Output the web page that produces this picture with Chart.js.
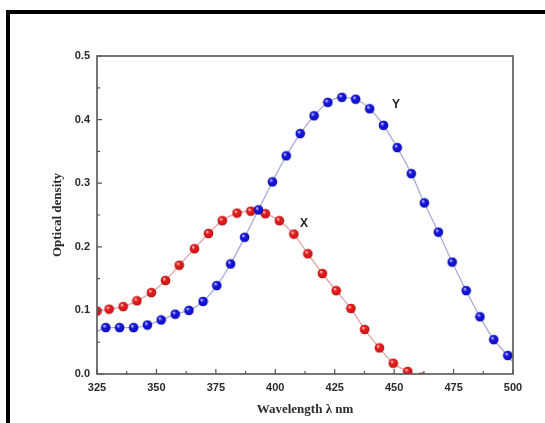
<!DOCTYPE html>
<html>
<head>
<meta charset="utf-8">
<script src="https://cdn.jsdelivr.net/npm/chart.js@4/dist/chart.umd.min.js"></script>
<style>
  html, body { margin: 0; padding: 0; background: #ffffff; }
  #wrap { width: 545px; height: 423px; position: relative; }
</style>
</head>
<body>
<div id="wrap"><canvas id="c" width="545" height="423"></canvas></div>
<script>
// ---- data ----
const xTitle = 'Wavelength \u03bb nm';
const yTitle = 'Optical density';

// Series Y (blue)
const blueWave = [328.7, 334.5, 340.4, 346.2, 352.0, 357.9, 363.7, 369.6, 375.4, 381.2,
                  387.1, 392.9, 398.8, 404.6, 410.5, 416.3, 422.1, 428.0, 433.8, 439.7,
                  445.5, 451.3, 457.2, 462.7, 468.6, 474.4, 480.3, 486.1, 491.9, 497.8];
const blueOD   = [0.073, 0.073, 0.073, 0.077, 0.085, 0.094, 0.100, 0.114, 0.139, 0.173,
                  0.215, 0.258, 0.302, 0.343, 0.378, 0.406, 0.427, 0.435, 0.432, 0.417,
                  0.391, 0.356, 0.315, 0.269, 0.223, 0.176, 0.131, 0.090, 0.054, 0.029];
const blueLineStart = [325, 0.067];
const blueLineEnd   = [500, 0.018];

// Series X (red)
const redWave = [325.0, 330.1, 336.0, 341.8, 347.9, 353.8, 359.6, 366.0, 371.9, 377.7,
                 383.9, 389.7, 395.8, 401.7, 407.8, 413.7, 419.8, 425.6, 431.8, 437.6,
                 443.8, 449.6, 455.7, 461.6];
const redOD   = [0.099, 0.102, 0.106, 0.115, 0.128, 0.147, 0.171, 0.197, 0.221, 0.241,
                 0.253, 0.256, 0.252, 0.241, 0.220, 0.189, 0.158, 0.131, 0.103, 0.070,
                 0.041, 0.017, 0.004, -0.005];

// curve labels
const labelText = ['X', 'Y'];
const labelWave = [412.1, 450.8];
const labelOD   = [0.237, 0.424];

// axes
const xMin = 325, xMax = 500, xStep = 25;
const yMin = 0, yMax = 0.5, yStep = 0.1;

// ---- helpers ----
const pts = (xs, ys) => xs.map((x, i) => ({ x: x, y: ys[i] }));
const MARK_R = 4.8;

function sphereImage(light, base, dark) {
  const size = Math.ceil(MARK_R * 2) + 1;
  const cv = document.createElement('canvas');
  cv.width = size; cv.height = size;
  const c = cv.getContext('2d');
  const m = size / 2;
  const g = c.createRadialGradient(m - MARK_R * 0.35, m - MARK_R * 0.4, 0.1, m, m, MARK_R);
  g.addColorStop(0, '#ffffff');
  g.addColorStop(0.15, light);
  g.addColorStop(0.45, base);
  g.addColorStop(0.85, base);
  g.addColorStop(1, dark);
  c.fillStyle = g;
  c.beginPath();
  c.arc(m, m, MARK_R, 0, Math.PI * 2);
  c.fill();
  return cv;
}
const redBall = sphereImage('#ff8a8a', '#dd1818', '#7a0000');
const blueBall = sphereImage('#8a8aff', '#1212d6', '#000066');

const frameAndTicks = {
  id: 'frameAndTicks',
  beforeDraw(chart) {
    const c = chart.ctx;
    c.save();
    c.fillStyle = '#000000';
    c.fillRect(6, 10, 4, chart.height - 10);
    c.fillRect(6, 10, chart.width - 6, 4);
    c.restore();
  },
  afterDatasetsDraw(chart) {
    const c = chart.ctx;
    const a = chart.chartArea;
    const xs = chart.scales.x, ys = chart.scales.y;
    c.save();
    c.strokeStyle = '#555555';
    c.lineWidth = 1.6;
    c.strokeRect(a.left, a.top, a.right - a.left, a.bottom - a.top);
    c.lineWidth = 1.2;
    c.beginPath();
    const xt = xs.ticks.map(t => t.value);
    xt.forEach((v, i) => {
      const p = xs.getPixelForValue(v);
      c.moveTo(p, a.bottom); c.lineTo(p, a.bottom - 5);
      if (i < xt.length - 1) {
        const m = xs.getPixelForValue((v + xt[i + 1]) / 2);
        c.moveTo(m, a.bottom); c.lineTo(m, a.bottom - 3);
      }
    });
    const yt = ys.ticks.map(t => t.value);
    yt.forEach((v, i) => {
      const p = ys.getPixelForValue(v);
      c.moveTo(a.left, p); c.lineTo(a.left + 5, p);
      if (i < yt.length - 1) {
        const m = ys.getPixelForValue((v + yt[i + 1]) / 2);
        c.moveTo(a.left, m); c.lineTo(a.left + 3, m);
      }
    });
    c.stroke();
    c.fillStyle = '#222222';
    c.font = 'bold 12px "Liberation Sans", Arial, sans-serif';
    c.textAlign = 'center';
    c.textBaseline = 'middle';
    labelText.forEach((t, i) => {
      c.fillText(t, xs.getPixelForValue(labelWave[i]), ys.getPixelForValue(labelOD[i]));
    });
    c.restore();
  }
};

// Note: Chart.js paints datasets from last to first, so marker datasets
// come first in the list to end up on top of the connecting lines.
new Chart(document.getElementById('c'), {
  type: 'line',
  data: {
    datasets: [
      {
        label: 'Y',
        data: pts(blueWave, blueOD),
        showLine: false,
        pointStyle: blueBall,
        pointRadius: MARK_R,
        pointBorderWidth: 0,
        pointBackgroundColor: '#1212d6',
        clip: 0
      },
      {
        label: 'X',
        data: pts(redWave, redOD),
        showLine: false,
        pointStyle: redBall,
        pointRadius: MARK_R,
        pointBorderWidth: 0,
        pointBackgroundColor: '#dd1818',
        clip: 0
      },
      {
        label: 'Y line',
        data: pts([blueLineStart[0]].concat(blueWave, [blueLineEnd[0]]),
                  [blueLineStart[1]].concat(blueOD, [blueLineEnd[1]])),
        borderColor: '#a9acd6',
        borderWidth: 1.3,
        pointRadius: 0,
        cubicInterpolationMode: 'monotone',
        clip: 0
      },
      {
        label: 'X line',
        data: pts(redWave, redOD),
        borderColor: '#e6a3a3',
        borderWidth: 1.3,
        pointRadius: 0,
        cubicInterpolationMode: 'monotone',
        clip: 0
      }
    ]
  },
  options: {
    responsive: false,
    animation: false,
    events: [],
    layout: { padding: { left: 0, top: 56, right: 32, bottom: 0 } },
    plugins: { legend: { display: false }, tooltip: { enabled: false } },
    scales: {
      x: {
        type: 'linear',
        min: xMin, max: xMax,
        grid: { display: false, drawTicks: false },
        border: { display: false },
        ticks: {
          stepSize: xStep,
          padding: 7,
          maxRotation: 0,
          color: '#2a2a2a',
          font: { family: '"Liberation Sans", Arial, sans-serif', size: 11, weight: 'bold' }
        },
        title: {
          display: true,
          text: xTitle,
          color: '#2a2a2a',
          padding: { top: 0, bottom: 6 },
          font: { family: '"Liberation Serif", "Times New Roman", serif', size: 13, weight: 'bold' }
        },
        afterFit(s) { s.height = 49; }
      },
      y: {
        type: 'linear',
        min: yMin, max: yMax,
        grid: { display: false, drawTicks: false },
        border: { display: false },
        ticks: {
          stepSize: yStep,
          padding: 7,
          color: '#2a2a2a',
          callback: v => v.toFixed(1),
          font: { family: '"Liberation Sans", Arial, sans-serif', size: 11, weight: 'bold' }
        },
        title: {
          display: true,
          text: yTitle,
          color: '#2a2a2a',
          padding: { top: 50, bottom: 0 },
          font: { family: '"Liberation Serif", "Times New Roman", serif', size: 13, weight: 'bold' }
        },
        afterFit(s) { s.width = 97; }
      }
    }
  },
  plugins: [frameAndTicks]
});
</script>
</body>
</html>
